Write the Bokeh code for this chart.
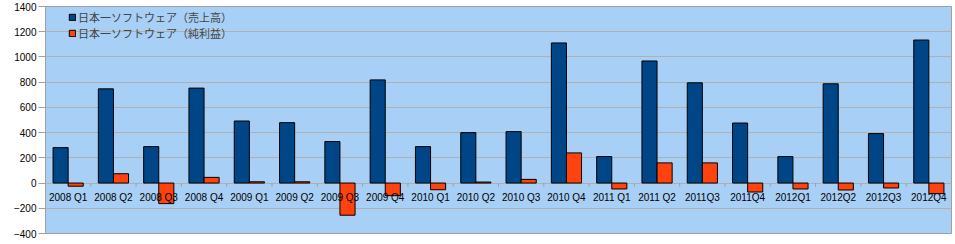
from bokeh.plotting import figure
from bokeh.models import Range1d, FixedTicker, ColumnDataSource, Legend, LegendItem
from bokeh.transform import dodge
from bokeh.embed import file_html
from bokeh.resources import INLINE
from bokeh.core.properties import value

quarters = ["2008 Q1", "2008 Q2", "2008 Q3", "2008 Q4", "2009 Q1", "2009 Q2",
            "2009 Q3", "2009 Q4", "2010 Q1", "2010 Q2", "2010 Q3", "2010 Q4",
            "2011 Q1", "2011 Q2", "2011Q3", "2011Q4", "2012Q1", "2012Q2",
            "2012Q3", "2012Q4"]
sales = [281, 747, 289, 753, 492, 479, 329, 818, 289, 400, 408, 1111,
         210, 968, 795, 476, 210, 787, 392, 1134]
profit = [-25, 74, -163, 45, 10, 10, -255, -100, -53, 8, 29, 239,
          -47, 160, 160, -71, -47, -55, -39, -84]
series_names = ["日本一ソフトウェア（売上高）", "日本一ソフトウェア（純利益）"]
y_ticks = [-400, -200, 0, 200, 400, 600, 800, 1000, 1200, 1400]

n = len(quarters)
xc = [i + 0.5 for i in range(n)]
src = ColumnDataSource(dict(q=quarters, xc=xc, sales=sales, profit=profit))

p = figure(width=955, height=244, output_backend="svg", toolbar_location=None,
           x_range=Range1d(0, n), y_range=Range1d(y_ticks[0], y_ticks[-1]),
           min_border_left=45, min_border_right=4, min_border_top=6,
           min_border_bottom=11)
p.background_fill_color = "#a8cff5"
p.border_fill_color = "white"
p.outline_line_color = "#a0a0a0"

p.xaxis.visible = False
p.xgrid.visible = False
p.ygrid.grid_line_color = "#b0b0b0"
p.ygrid.ticker = FixedTicker(ticks=y_ticks)

ax = p.yaxis[0]
ax.ticker = FixedTicker(ticks=y_ticks)
ax.axis_line_color = "#a0a0a0"
ax.major_tick_line_color = "#a0a0a0"
ax.major_tick_out = 7
ax.major_tick_in = 0
ax.minor_tick_line_color = None
ax.major_label_text_font = "Liberation Sans"
ax.major_label_text_font_size = "10px"
ax.major_label_text_color = "black"
ax.major_label_standoff = 2

r1 = p.vbar(x=dodge("xc", -1/6, range=p.x_range), top="sales", bottom=0, width=1/3,
            source=src, fill_color="#004586", line_color="black", line_width=1)
r2 = p.vbar(x=dodge("xc", 1/6, range=p.x_range), top="profit", bottom=0, width=1/3,
            source=src, fill_color="#ff420e", line_color="black", line_width=1)

# category boundary ticks on zero line
bsrc = ColumnDataSource(dict(b=list(range(1, n))))
p.segment(x0="b", x1="b", y0=0, y1=-30, source=bsrc, line_color="#a0a0a0", line_width=1)

p.text(x="xc", y=0, text="q", source=src, text_align="center", text_baseline="top",
       y_offset=9, text_font=value("Liberation Sans"), text_font_size="10px",
       text_color="black")

legend = Legend(items=[LegendItem(label=series_names[0], renderers=[r1]),
                       LegendItem(label=series_names[1], renderers=[r2])],
                location=(23, 192))
legend.margin = 0
legend.padding = 0
legend.spacing = 0
legend.glyph_width = 8
legend.glyph_height = 8
legend.label_height = 16
legend.label_standoff = 2
legend.label_text_font = "Noto Sans CJK JP"
legend.label_text_font_size = "11px"
legend.background_fill_alpha = 0
legend.border_line_alpha = 0
p.add_layout(legend)

open("out.html", "w").write(file_html(p, INLINE))
